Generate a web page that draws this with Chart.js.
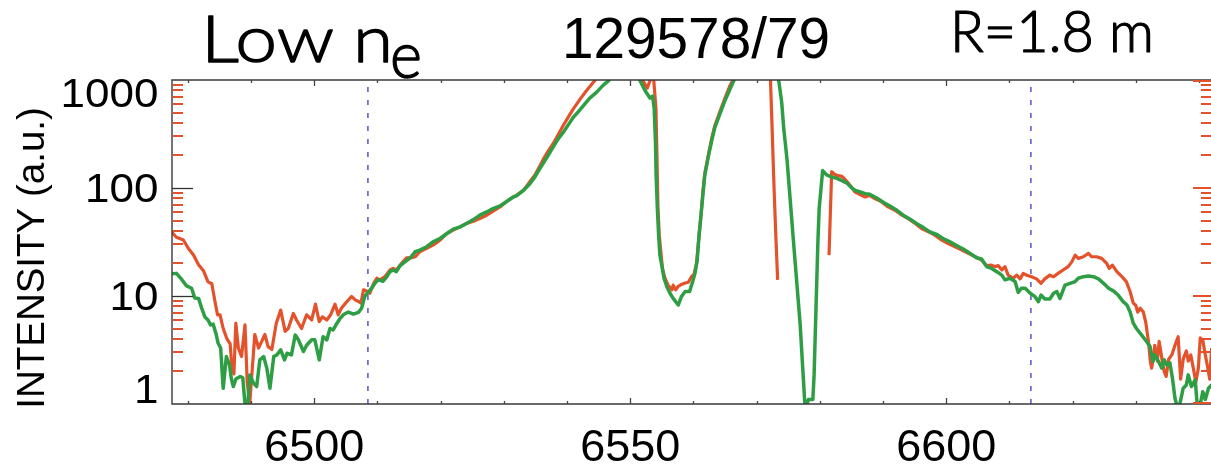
<!DOCTYPE html>
<html>
<head>
<meta charset="utf-8">
<style>
  html, body { margin: 0; padding: 0; background: #ffffff; overflow: hidden; }
  canvas { display: block; }
</style>
<script src="https://cdn.jsdelivr.net/npm/chart.js@4.4.1/dist/chart.umd.min.js"></script>
</head>
<body>
<canvas id="spectrum" width="1211" height="466"></canvas>
<script>
// Spectrum around H-alpha, shots 129578 (red) and 129579 (green), R = 1.8 m.
// Wavelengths in Angstrom, intensities in arbitrary units (log axis 1..1000).
const redWavelength = [
  6477.3, 6478.2, 6479.3, 6480.1, 6480.9, 6481.7, 6482.5, 6483.2, 6483.8, 6484.3,
  6484.7, 6485.1, 6485.6, 6486.2, 6486.7, 6487.0, 6487.3, 6487.6, 6488.0, 6488.5,
  6489.05, 6489.4, 6489.8, 6490.6, 6491.2, 6491.7, 6492.2, 6492.7, 6493.3, 6494.0,
  6494.7, 6495.4, 6495.9, 6496.7, 6497.2, 6498.0, 6498.8, 6499.6, 6500.2, 6500.8,
  6501.3, 6502.0, 6502.6, 6503.3, 6503.8, 6504.3, 6504.9, 6505.9, 6506.5, 6507.0,
  6507.4, 6507.8, 6508.3, 6508.8, 6509.4, 6509.9, 6510.4, 6511.2, 6512.0, 6512.5,
  6513.0, 6513.8, 6514.6, 6515.4, 6516.0, 6516.7, 6517.8, 6518.8, 6519.9, 6521.0,
  6522.0, 6523.1, 6524.1, 6525.2, 6526.2, 6527.3, 6528.3, 6529.4, 6530.5, 6531.5,
  6532.0, 6533.1, 6534.1, 6534.9, 6535.7, 6536.3, 6537.0, 6537.8, 6538.6, 6539.4,
  6540.2, 6541.0, 6542.1, 6543.1, 6544.4, 6546.0, 6549.0, 6551.2, 6552.0, 6552.7,
  6553.3, 6553.7, 6554.08, 6554.24, 6554.4, 6554.6, 6554.9, 6555.1, 6555.5, 6556.0,
  6556.6, 6556.8, 6557.2, 6557.6, 6558.1, 6558.7, 6559.2, 6559.7, 6560.1, 6560.5,
  6560.8, 6561.2, 6561.5, 6561.8, 6562.4, 6562.9, 6563.4, 6564.2, 6565.0, 6565.8,
  6566.2, 6568.0, 6571.0, 6572.2, 6572.44, 6572.75, 6573.02, 6573.33, 6577.0, 6581.46,
  6581.88, 6582.4, 6582.9, 6583.5, 6584.0, 6584.5, 6585.05, 6585.6, 6586.6, 6587.2,
  6587.9, 6588.7, 6589.8, 6590.8, 6591.9, 6593.0, 6594.0, 6595.1, 6596.1, 6597.2,
  6598.2, 6599.3, 6600.3, 6601.4, 6602.5, 6603.5, 6604.6, 6605.6, 6606.4, 6607.2,
  6607.7, 6608.25, 6608.8, 6609.3, 6609.8, 6610.6, 6611.15, 6611.7, 6612.2, 6612.7,
  6613.5, 6614.3, 6615.0, 6615.6, 6616.4, 6617.0, 6617.7, 6618.5, 6619.3, 6619.9,
  6620.4, 6620.9, 6621.7, 6622.5, 6623.0, 6623.8, 6624.6, 6625.4, 6625.8, 6626.3,
  6627.0, 6627.8, 6628.5, 6629.1, 6629.6, 6630.0, 6630.3, 6630.7, 6631.2, 6631.6,
  6632.0, 6632.3, 6632.5, 6632.8, 6633.0, 6633.4, 6633.7, 6634.1, 6634.5, 6634.8,
  6635.2, 6635.7, 6636.2, 6636.7, 6637.1, 6637.5, 6638.0, 6638.3, 6638.7, 6639.1,
  6639.5, 6639.9, 6640.2, 6640.6, 6641.0, 6641.3, 6641.7, 6642.0
];
const redIntensity = [
  40, 35, 33, 27.5, 24, 19.5, 17, 13.5, 13, 8.9,
  6.7, 6.7, 5.0, 4.0, 3.6, 2.1, 1.9, 5.6, 3.3, 2.75,
  5.4, 1.6, 1.0, 4.4, 3.3, 3.8, 4.4, 3.4, 3.2, 5.6,
  7.4, 4.7, 5.0, 6.9, 6.0, 5.0, 6.7, 6.0, 8.4, 5.8,
  6.4, 6.0, 6.7, 8.4, 6.7, 7.7, 8.5, 9.9, 9.2, 8.9,
  8.6, 11.4, 11.1, 10.6, 13.1, 14.6, 14.1, 15.1, 17.4, 18.0,
  17.4, 20.0, 22.6, 22.6, 23.1, 25.7, 27.6, 29.6, 32.9, 37.9,
  40.7, 43.7, 46.9, 49.3, 52.1, 56, 61, 66.8, 75.4, 82.6,
  85.5, 95, 114, 131, 160, 187, 218, 257, 311, 379,
  453, 540, 669, 798, 988, 1500, 2500, 1500, 990, 840,
  1050, 1050, 540, 187, 64.5, 36.6, 23.9, 18, 14.6, 12.6,
  11.4, 12.6, 11.4, 12.3, 12.8, 13.2, 13.4, 15.1, 15.9, 20,
  31.7, 55.8, 92, 136, 207, 289, 379, 510, 680, 890,
  988, 2000, 2000, 988, 380, 105, 39, 14.1, null, 23.9,
  142, 133, 130, 128, 120, 111, 101, 91.5, 85.6, 82.6,
  85.6, 79.8, 74.3, 66.8, 62.2, 56, 52.1, 46.9, 42.1, 39.2,
  36.6, 32.9, 30.6, 28.6, 26.6, 24.8, 23.1, 21.5, 19.1, 19.3,
  18.7, 19.1, 17.4, 18.7, 15.6, 14.6, 15.6, 14.4, 16.2, 15.6,
  15.1, 14.4, 13.1, 14.4, 15.6, 15.1, 16.2, 17.4, 18.7, 20.8,
  23.9, 22.3, 23.1, 24.8, 23.1, 23.1, 22.3, 20, 18, 19.3,
  16.8, 15.1, 13.6, 11.0, 8.6, 8.2, 7.1, 7.7, 7.1, 5.6,
  3.8, 2.5, 2.15, 2.7, 3.5, 2.5, 3.8, 2.7, 2.0, 1.8,
  2.6, 2.85, 3.5, 4.2, 1.7, 2.6, 3.1, 2.5, 2.85, 2.15,
  1.6, 2.15, 4.1, 3.9, 2.85, 2.3, 1.7, 3.3
];

const greenWavelength = [
  6477.3, 6478.2, 6479.0, 6479.8, 6480.6, 6481.1, 6481.7, 6482.2, 6482.7, 6483.2,
  6483.6, 6484.0, 6484.5, 6484.8, 6485.2, 6485.6, 6486.1, 6486.6, 6486.9, 6487.2,
  6487.6, 6488.3, 6488.7, 6489.05, 6489.5, 6489.8, 6490.4, 6490.9, 6491.4, 6492.0,
  6492.5, 6493.0, 6493.6, 6494.1, 6494.7, 6495.3, 6495.7, 6496.4, 6497.0, 6497.5,
  6498.3, 6498.8, 6499.6, 6500.1, 6500.8, 6501.4, 6502.0, 6502.5, 6503.0, 6503.6,
  6504.1, 6504.6, 6505.4, 6506.2, 6507.0, 6507.5, 6508.0, 6508.6, 6509.1, 6509.6,
  6510.1, 6510.9, 6511.5, 6512.0, 6512.5, 6513.0, 6513.6, 6514.4, 6515.2, 6516.0,
  6516.7, 6517.8, 6518.8, 6519.9, 6521.0, 6522.0, 6523.1, 6524.1, 6525.2, 6526.2,
  6527.3, 6528.3, 6529.4, 6530.5, 6531.5, 6532.0, 6533.1, 6534.1, 6534.9, 6535.7,
  6536.3, 6537.0, 6537.8, 6538.6, 6539.4, 6540.2, 6541.0, 6541.8, 6542.6, 6543.6,
  6544.7, 6545.7, 6546.6, 6548.0, 6550.0, 6551.55, 6552.34, 6553.13, 6553.55, 6553.8,
  6554.0, 6554.1, 6554.3, 6554.5, 6554.7, 6555.0, 6555.35, 6555.8, 6556.3, 6556.8,
  6557.6, 6558.1, 6558.7, 6559.4, 6559.9, 6560.25, 6560.6, 6560.9, 6561.2, 6561.5,
  6561.8, 6562.4, 6562.9, 6563.4, 6564.2, 6565.0, 6565.8, 6566.4, 6569.0, 6572.0,
  6573.5, 6573.97, 6574.3, 6574.8, 6575.3, 6575.8, 6576.35, 6576.9, 6577.3, 6577.7,
  6578.2, 6578.9, 6579.1, 6579.4, 6579.7, 6579.9, 6580.45, 6581.1, 6581.9, 6582.7,
  6583.5, 6584.3, 6585.0, 6585.6, 6586.4, 6587.2, 6587.9, 6589.0, 6590.1, 6591.1,
  6592.2, 6593.2, 6594.3, 6595.3, 6596.4, 6597.4, 6598.5, 6599.5, 6600.6, 6601.7,
  6602.7, 6603.8, 6604.8, 6605.6, 6606.4, 6607.2, 6608.0, 6608.8, 6609.3, 6610.1,
  6610.9, 6611.4, 6611.9, 6612.5, 6613.3, 6614.05, 6614.6, 6615.0, 6615.6, 6616.4,
  6617.0, 6617.5, 6618.0, 6618.8, 6619.6, 6620.4, 6620.9, 6621.7, 6622.5, 6623.3,
  6624.1, 6624.9, 6625.7, 6626.5, 6627.2, 6628.0, 6628.6, 6629.1, 6629.6, 6630.1,
  6630.9, 6631.7, 6632.25, 6632.7, 6633.0, 6633.6, 6634.1, 6634.5, 6634.9, 6635.4,
  6635.8, 6636.2, 6636.6, 6637.0, 6637.5, 6638.0, 6638.3, 6638.8, 6639.4, 6639.7,
  6640.2, 6640.6, 6641.0, 6641.5, 6642.0
];
const greenIntensity = [
  16, 16.2, 14.3, 12.4, 11.8, 9.6, 9.5, 7.7, 6.4, 6.0,
  5.4, 5.5, 4.4, 3.65, 3.3, 1.4, 2.75, 2.3, 1.7, 1.45,
  1.7, 1.8, 1.75, 1.0, 0.98, 1.86, 1.56, 1.45, 2.56, 2.75,
  2.15, 1.4, 2.75, 2.85, 3.17, 2.56, 2.95, 2.85, 4.36, 3.93,
  3.06, 3.5, 3.93, 3.93, 2.56, 4.2, 3.93, 5.0, 4.85, 5.6,
  6.2, 6.7, 7.1, 6.8, 7.06, 7.7, 9.9, 10.9, 11.8, 13.1,
  14.1, 13.7, 15.1, 16.8, 17.4, 16.8, 19.1, 20.8, 22.6, 25.7,
  26.6, 28.6, 31.7, 34.1, 37.9, 41.6, 43.7, 46.9, 51, 56,
  60, 64.5, 68.2, 75.4, 82.6, 84.4, 95, 109, 126, 151,
  172, 200, 239, 285, 327, 384, 451, 510, 580, 679,
  772, 891, 988, 1500, 1500, 988, 798, 680, 710, 540,
  265, 131, 64.5, 36.6, 23.9, 19.2, 14.6, 12.2, 10.6, 9.5,
  8.25, 9.86, 11.0, 11.0, 13.7, 16.2, 21.5, 36.6, 55.8, 86,
  131, 200, 275, 364, 485, 647, 826, 988, 2000, 2000,
  988, 623, 353, 187, 80, 34, 13.5, 5.4, 2.15, 0.86,
  1.1, 1.1, 1.86, 7.7, 31.7, 64.5, 145, 132, 126, 123,
  117, 111, 101, 95, 91.9, 88.7, 87.5, 80.9, 73.3, 68.2,
  62.2, 56, 51.4, 46.9, 43, 39.2, 37.1, 34.1, 31.7, 29.2,
  27.2, 24.8, 22.6, 22, 18.7, 18.0, 16.8, 15.6, 14.1, 14.6,
  13.6, 10.8, 11.8, 11.8, 10.6, 9.86, 8.87, 10.2, 9.4, 9.4,
  10.6, 11.0, 9.5, 12.6, 13.1, 13.6, 14.6, 15.1, 15.3, 15.1,
  14.4, 13.1, 11.8, 11.1, 10.2, 8.87, 8.25, 7.1, 5.6, 5.0,
  4.36, 3.79, 3.4, 2.48, 2.85, 2.48, 2.15, 2.56, 2.3, 2.4,
  1.73, 1.13, 0.92, 1.02, 1.4, 1.5, 1.86, 1.45, 1.67, 1.02,
  0.98, 1.3, 1.1, 1.4, 1.5
];

// Axis ranges and ticks
const wavelengthRange = [6477.5, 6641.9];
const intensityRange = [1, 1000];
const xMajorTicks = [6500, 6550, 6600];
const xMinorTicks = [6480, 6490, 6510, 6520, 6530, 6540, 6560, 6570, 6580, 6590, 6610, 6620, 6630, 6640];
const yMajorTicks = [1, 10, 100, 1000];
const yTickLabels = ['1', '10', '100', '1000'];
// Reference wavelengths marked with dashed verticals
const markerWavelengths = [6508.5, 6613.4];

const RED = '#e4522b';
const GREEN = '#2e9e45';
const toPoints = (xs, ys) => xs.map((x, i) => ({ x: x, y: ys[i] }));

// Draws text squeezed or stretched to a given advance width;
// an optional outline thickens light faces a little.
function fitText(ctx, text, x, y, width, outline) {
  const w = ctx.measureText(text).width;
  ctx.save();
  ctx.translate(x, y);
  ctx.scale(width / w, 1);
  ctx.fillText(text, 0, 0);
  if (outline) {
    ctx.lineWidth = outline;
    ctx.lineJoin = 'round';
    ctx.strokeStyle = ctx.fillStyle;
    ctx.strokeText(text, 0, 0);
  }
  ctx.restore();
}

const axesPlugin = {
  id: 'idlAxes',
  afterDraw(chart) {
    const ctx = chart.ctx;
    const a = chart.chartArea;
    const xs = chart.scales.x, ys = chart.scales.y;
    ctx.save();

    // frame
    ctx.strokeStyle = '#3a3a3a';
    ctx.lineWidth = 1.4;
    ctx.beginPath();
    ctx.moveTo(a.right + 2, a.top); ctx.lineTo(a.left, a.top);
    ctx.lineTo(a.left, a.bottom); ctx.lineTo(a.right + 2, a.bottom);
    ctx.stroke();

    // x ticks, top and bottom, pointing inward
    ctx.strokeStyle = '#444';
    ctx.lineWidth = 1.3;
    const xTick = (v, len) => {
      const px = Math.round(xs.getPixelForValue(v)) + 0.5;
      ctx.beginPath();
      ctx.moveTo(px, a.bottom); ctx.lineTo(px, a.bottom - len);
      ctx.moveTo(px, a.top); ctx.lineTo(px, a.top + len);
      ctx.stroke();
    };
    xMinorTicks.forEach(v => xTick(v, 3));
    xMajorTicks.forEach(v => xTick(v, 6));

    // y major ticks on the left (black)
    ctx.strokeStyle = '#333';
    ctx.lineWidth = 1.3;
    [10, 100].forEach(v => {
      const py = Math.round(ys.getPixelForValue(v)) + 0.5;
      ctx.beginPath(); ctx.moveTo(a.left, py); ctx.lineTo(a.left + 21, py); ctx.stroke();
    });

    // red logarithmic ticks, left (minor) and right (major + minor)
    ctx.strokeStyle = RED;
    ctx.lineWidth = 2;
    [1, 10, 100].forEach(d => {
      for (let m = 2; m <= 9; m++) {
        const py = Math.round(ys.getPixelForValue(d * m));
        ctx.beginPath(); ctx.moveTo(a.left + 1, py); ctx.lineTo(a.left + 11, py); ctx.stroke();
        ctx.beginPath(); ctx.moveTo(a.right, py); ctx.lineTo(a.right - 10, py); ctx.stroke();
      }
    });
    yMajorTicks.forEach(v => {
      let py = Math.round(ys.getPixelForValue(v));
      py = Math.min(Math.max(py, a.top + 1), a.bottom - 1);
      ctx.beginPath(); ctx.moveTo(a.right, py); ctx.lineTo(a.right - 18, py); ctx.stroke();
    });

    // tick labels
    ctx.fillStyle = '#000';
    ctx.textBaseline = 'alphabetic';
    ctx.font = '40px "Liberation Sans", Arial, sans-serif';
    ctx.textAlign = 'right';
    yMajorTicks.forEach((v, i) => {
      const py = ys.getPixelForValue(v);
      const base = Math.min(Math.max(py + 14, a.top + 27), a.bottom - 1);
      ctx.save();
      ctx.translate(158.5, base);
      ctx.scale(1.1, 1);
      ctx.fillText(yTickLabels[i], 0, 0);
      ctx.restore();
    });
    ctx.font = '45px "Liberation Sans", Arial, sans-serif';
    ctx.textAlign = 'center';
    xMajorTicks.forEach(v => {
      ctx.fillText(String(v), xs.getPixelForValue(v), 461);
    });

    // y axis title
    ctx.save();
    ctx.font = '38.5px "Liberation Sans", Arial, sans-serif';
    ctx.textAlign = 'center';
    ctx.translate(43.5, 258);
    ctx.rotate(-Math.PI / 2);
    ctx.fillText('INTENSITY (a.u.)', 0, 0);
    ctx.restore();

    // headings
    ctx.textAlign = 'left';
    ctx.font = '300 66px Lato, "Liberation Sans", sans-serif';
    fitText(ctx, 'Low', 201, 62, 133, 1.3);
    fitText(ctx, 'n', 353, 62, 40, 1.3);
    fitText(ctx, 'e', 390, 78, 32, 1.3);
    ctx.font = '57px "Liberation Sans", Arial, sans-serif';
    fitText(ctx, '129578/79', 562, 58, 268);
    ctx.font = '300 58px Lato, "Liberation Sans", sans-serif';
    fitText(ctx, 'R=1.8 m', 950, 52, 204, 1.2);

    ctx.restore();
  }
};

const markerSets = markerWavelengths.map(w => ({
  data: [{ x: w, y: intensityRange[0] }, { x: w, y: intensityRange[1] }],
  borderColor: '#5f5fcc',
  borderWidth: 1.6,
  borderDash: [5, 8],
  pointRadius: 0,
  order: 2
}));

new Chart(document.getElementById('spectrum'), {
  type: 'line',
  data: {
    datasets: [
      {
        label: '129579',
        data: toPoints(greenWavelength, greenIntensity),
        borderColor: GREEN,
        borderWidth: 3.5,
        borderJoinStyle: 'round',
        borderCapStyle: 'round',
        pointRadius: 0,
        tension: 0,
        spanGaps: false,
        order: 0
      },
      {
        label: '129578',
        data: toPoints(redWavelength, redIntensity),
        borderColor: RED,
        borderWidth: 3.2,
        borderJoinStyle: 'round',
        borderCapStyle: 'butt',
        pointRadius: 0,
        tension: 0,
        spanGaps: false,
        order: 1
      },
      ...markerSets
    ]
  },
  options: {
    responsive: false,
    animation: false,
    devicePixelRatio: 1,
    layout: { padding: { top: 80, left: 0, right: 0, bottom: 0 } },
    plugins: { legend: { display: false }, tooltip: { enabled: false }, title: { display: false } },
    scales: {
      x: {
        type: 'linear',
        min: wavelengthRange[0],
        max: wavelengthRange[1],
        ticks: { display: false },
        grid: { display: false },
        border: { display: false },
        afterFit(scale) { scale.height = 62; }
      },
      y: {
        type: 'logarithmic',
        min: intensityRange[0],
        max: intensityRange[1],
        ticks: { display: false },
        grid: { display: false },
        border: { display: false },
        afterFit(scale) { scale.width = 172; }
      }
    }
  },
  plugins: [axesPlugin]
});
</script>
</body>
</html>
